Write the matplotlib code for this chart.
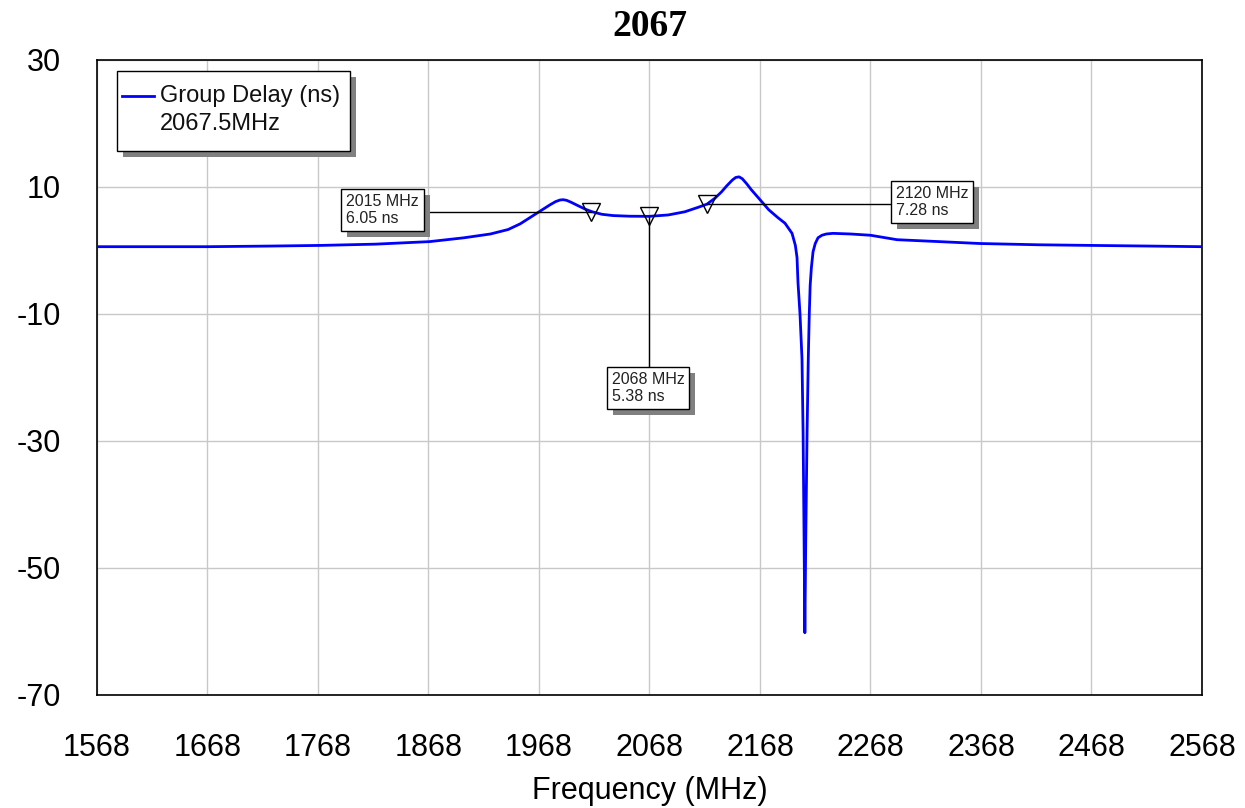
import matplotlib
matplotlib.use("Agg")
import matplotlib.pyplot as plt
from matplotlib.patches import Rectangle
import matplotlib.patheffects as pe

# group delay trace (MHz, ns)
freq_mhz = [1568, 1668, 1725, 1770, 1820, 1869, 1900, 1924, 1940, 1951,
            1960, 1969, 1978, 1983, 1987, 1990, 1993, 1997, 2004, 2010,
            2016, 2025, 2035, 2050, 2068, 2085, 2100, 2112, 2120, 2127,
            2133, 2138, 2143, 2146, 2149, 2152, 2156, 2160, 2168, 2176,
            2184, 2190.6, 2197, 2200, 2201.5, 2202.4, 2204.2, 2206, 2207, 2207.9,
            2208.6, 2209.4, 2210.6, 2211.7, 2212.6, 2213.4, 2214.5, 2216, 2218, 2220.5,
            2224, 2228, 2234, 2250, 2268, 2292, 2330, 2367, 2420, 2468,
            2520, 2568]
delay_ns = [0.6, 0.6, 0.7, 0.8, 1.0, 1.4, 2.0, 2.6, 3.3, 4.2,
            5.2, 6.2, 7.2, 7.7, 7.95, 8.0, 7.9, 7.6, 7.0, 6.5,
            6.1, 5.7, 5.5, 5.4, 5.38, 5.6, 6.1, 6.8, 7.3, 8.2,
            9.2, 10.2, 11.1, 11.5, 11.6, 11.3, 10.5, 9.6, 8.0, 6.4,
            5.2, 4.3, 2.7, 0.8, -1.1, -5.1, -10.0, -17.0, -28.7, -45.6,
            -60.2, -45.6, -28.7, -17.0, -10.0, -5.5, -2.7, -0.2, 1.1, 2.0,
            2.4, 2.6, 2.7, 2.6, 2.4, 1.7, 1.4, 1.1, 0.9, 0.8,
            0.7, 0.6]

marker_freqs = [2015, 2068, 2120]
marker_delays = [6.05, 5.38, 7.28]
marker_texts = ["2015 MHz\n6.05 ns", "2068 MHz\n5.38 ns", "2120 MHz\n7.28 ns"]
# where each marker readout box sits (data coords, top-left of text)
label_pos = [(1793.5, 8.9), (2034.0, -19.1), (2291.0, 10.2)]

x_ticks = list(range(1568, 2569, 100))
y_ticks = [30, 10, -10, -30, -50, -70]

legend_label = "Group Delay (ns)"
legend_sub = "2067.5MHz"
title = "2067"

plt.rcParams['font.family'] = ['Liberation Sans', 'DejaVu Sans']
plt.rcParams['axes.unicode_minus'] = False

fig = plt.figure(figsize=(12.45, 8.08), dpi=100)
ax = fig.add_axes([97 / 1245, 1 - 695 / 808, 1105 / 1245, 635 / 808])

ax.plot(freq_mhz, delay_ns, color='#0000ff', lw=2, zorder=3)

ax.set_xlim(1568, 2568)
ax.set_ylim(-70, 30)
ax.set_xticks(x_ticks)
ax.set_yticks(y_ticks)
ax.grid(True, color='#c8c8c8', lw=1)
ax.set_axisbelow(True)
ax.tick_params(axis='both', length=0, labelsize=22)
ax.tick_params(axis='y', pad=26)
ax.tick_params(axis='x', pad=27)
for s in ax.spines.values():
    s.set_color('black')
    s.set_linewidth(1.2)

ax.set_xlabel("Frequency (MHz)", fontsize=22, labelpad=10)
ax.set_title(title, fontsize=27, fontweight='bold', family='Liberation Serif', pad=17)

# markers + readout boxes
ax.plot(marker_freqs, marker_delays, linestyle='none', marker='v', ms=13,
        mfc='none', mec='black', mew=1, zorder=4)
shadow = [pe.SimplePatchShadow(offset=(4.3, -4.3), shadow_rgbFace='#808080', alpha=1.0), pe.Normal()]
for i, (f, d) in enumerate(zip(marker_freqs, marker_delays)):
    lx, ly = label_pos[i]
    if i == 1:
        ax.plot([f, f], [d, ly], color='black', lw=1, zorder=4)
    else:
        ax.plot([f, lx], [d, d], color='black', lw=1, zorder=4)
    t = ax.text(lx, ly, marker_texts[i], fontsize=11.5, va='top', ha='left',
                color='#222222', linespacing=1.2,
                bbox=dict(boxstyle='square,pad=0.3', fc='white', ec='black', lw=1), zorder=6)
    t.get_bbox_patch().set_path_effects(shadow)

# legend box drawn by hand so the shadow looks like the original
lx0, ly0, lw_, lh_ = 20 / 1105, (695 - 151) / 635, 233 / 1105, 80 / 635
ax.add_patch(Rectangle((lx0 + 6 / 1105, ly0 - 6 / 635), lw_, lh_, transform=ax.transAxes,
                       fc='#808080', ec='none', zorder=7))
ax.add_patch(Rectangle((lx0, ly0), lw_, lh_, transform=ax.transAxes,
                       fc='white', ec='black', lw=1, zorder=8))
ax.plot([25 / 1105, 57 / 1105], [0.943, 0.943], transform=ax.transAxes,
        color='#0000ff', lw=2, zorder=9)
ax.text(63 / 1105, 0.943, legend_label, transform=ax.transAxes, fontsize=17,
        va='center', ha='left', color='#111111', zorder=9)
ax.text(63 / 1105, 0.899, legend_sub, transform=ax.transAxes, fontsize=17,
        va='center', ha='left', color='#111111', zorder=9)

fig.savefig("out.png", dpi=100)
